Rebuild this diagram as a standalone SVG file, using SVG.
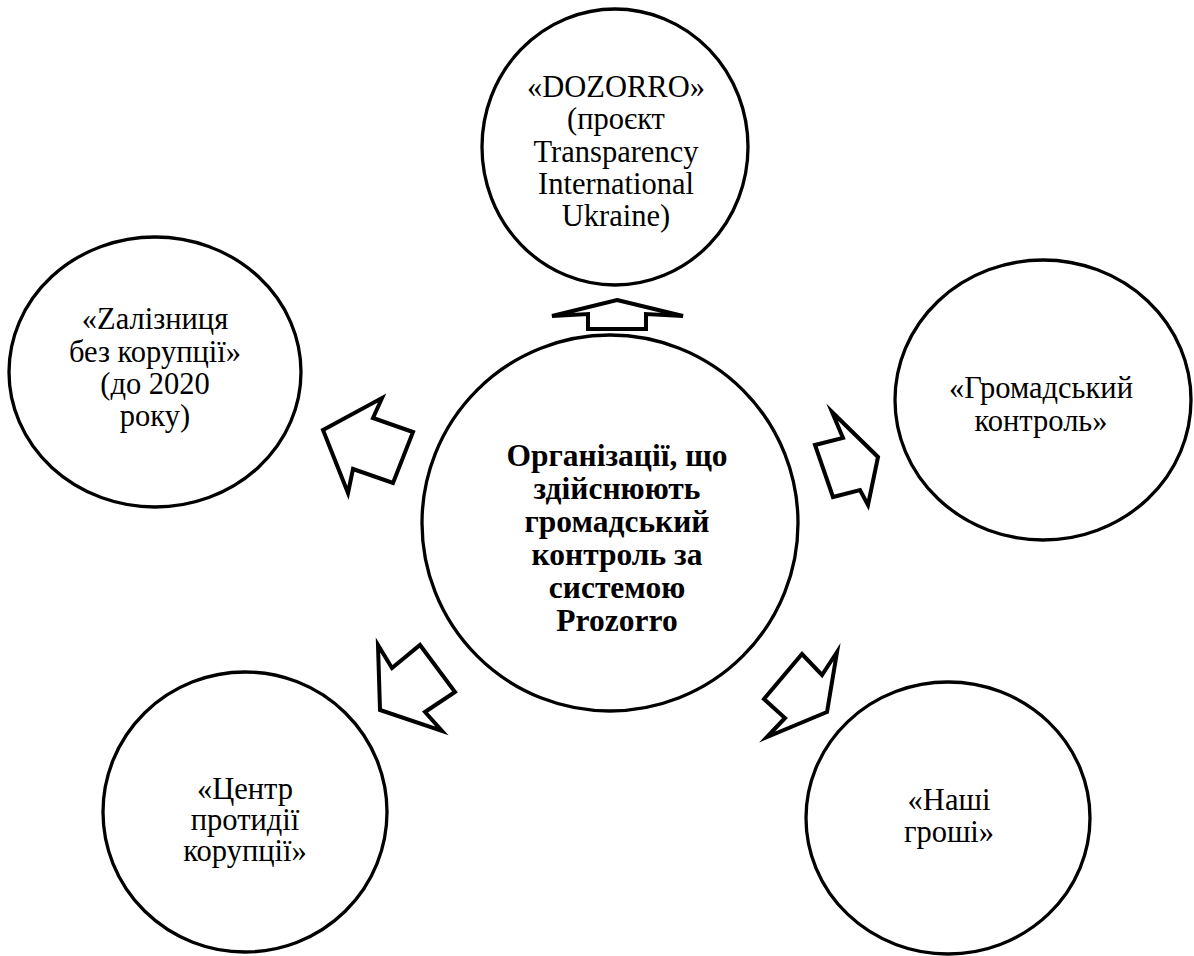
<svg xmlns="http://www.w3.org/2000/svg" width="1194" height="956" viewBox="0 0 1194 956">
<style>
.node{fill:#fff;stroke:#000;stroke-width:3.3}
.arr{fill:#fff;stroke:#000;stroke-width:4;stroke-linejoin:miter;stroke-miterlimit:10}
.t{font-size:30.5px;fill:#000;text-anchor:middle}
.b{font-weight:bold;font-size:31.5px}
</style>
<rect width="1194" height="956" fill="#fff"/>
<g id="connectors">
<polygon class="arr" points="617,300 683,316 646,314 646,329 588,329 588,314 552,316"/>
<polygon class="arr" points="323,430 382,398 373,418 413,432 393,483 353,469 348,493"/>
<polygon class="arr" points="878,457 868,505 860,490 833,497 815,445 843,438 832,412"/>
<polygon class="arr" points="380,710 378,645 392,668 420,645 455,692 425,712 442,731"/>
<polygon class="arr" points="827,712 767,737 785,718 764,699 802,654 822,675 837,652"/>
</g>
<g font-family="'Liberation Serif', 'Times New Roman', 'DejaVu Serif', serif">
<g id="center">
<ellipse class="node" cx="610" cy="523" rx="188" ry="188"/>
<text class="t b" x="617" y="466">Організації, що</text>
<text class="t b" x="617" y="499">здійснюють</text>
<text class="t b" x="617" y="532">громадський</text>
<text class="t b" x="617" y="565">контроль за</text>
<text class="t b" x="617" y="598">системою</text>
<text class="t b" x="617" y="631">Prozorro</text>
</g>
<g id="dozorro">
<ellipse class="node" cx="615" cy="147" rx="133" ry="138"/>
<text class="t" x="616" y="97">«DOZORRO»</text>
<text class="t" x="616" y="129">(проєкт</text>
<text class="t" x="616" y="162">Transparency</text>
<text class="t" x="616" y="194">International</text>
<text class="t" x="616" y="226">Ukraine)</text>
</g>
<g id="zaliznytsia">
<ellipse class="node" cx="155" cy="372" rx="146" ry="135"/>
<text class="t" x="155" y="329">«Zалізниця</text>
<text class="t" x="155" y="362">без корупції»</text>
<text class="t" x="155" y="394">(до 2020</text>
<text class="t" x="155" y="426">року)</text>
</g>
<g id="hromadskyi">
<ellipse class="node" cx="1043" cy="400" rx="148" ry="140"/>
<text class="t" x="1041" y="398">«Громадський</text>
<text class="t" x="1041" y="431">контроль»</text>
</g>
<g id="tsentr">
<ellipse class="node" cx="245" cy="812" rx="142" ry="140"/>
<text class="t" x="245" y="799">«Центр</text>
<text class="t" x="245" y="830">протидії</text>
<text class="t" x="245" y="861">корупції»</text>
</g>
<g id="nashi">
<ellipse class="node" cx="948" cy="818" rx="142" ry="136"/>
<text class="t" x="949" y="810">«Наші</text>
<text class="t" x="949" y="842">гроші»</text>
</g>
</g>
</svg>
